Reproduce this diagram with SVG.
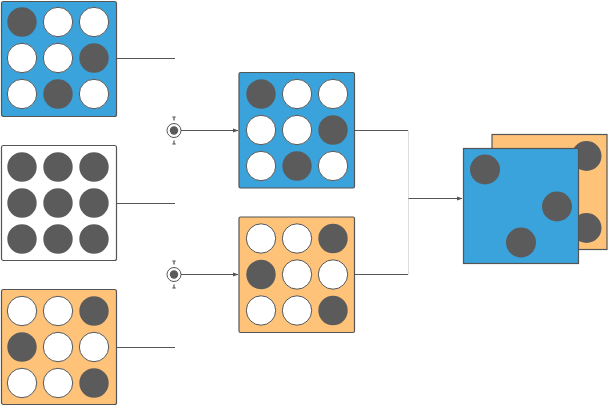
<svg xmlns="http://www.w3.org/2000/svg" width="608" height="406" viewBox="0 0 608 406">
<defs>
<style>
.box{stroke:#555;stroke-width:1.2}
.blue{fill:#3aa3dc}
.orange{fill:#fec379}
.white{fill:#fff}
.w{fill:#fff;stroke:#555;stroke-width:1}
.d{fill:#5b5b5b}
.ln{fill:none;stroke:#555;stroke-width:1}
.faint{fill:none;stroke:#ddd;stroke-width:1}
.ring{fill:#fff;stroke:#555;stroke-width:1}
.tick{fill:none;stroke:#555;stroke-width:1.2}
</style>
<marker id="arr" viewBox="0 0 10 10" refX="9" refY="5" markerWidth="6" markerHeight="6" orient="auto" markerUnits="userSpaceOnUse">
<path d="M0,1.5 L10,5 L0,8.5 z" fill="#555"/>
</marker>
</defs>
<rect width="608" height="406" fill="#fff"/>

<g id="connectors">
<path class="ln" d="M116.5 58.5 H175"/>
<path class="ln" d="M116.5 203.5 H175"/>
<path class="ln" d="M116.5 347.5 H175"/>
<path class="ln" d="M181 130.5 H238" marker-end="url(#arr)"/>
<path class="ln" d="M181 274.5 H238" marker-end="url(#arr)"/>
<path class="ln" d="M355 130.5 H408"/>
<path class="ln" d="M355 274.5 H408"/>
<path class="faint" d="M408.5 130.5 V274.5"/>
<path class="ln" d="M408.5 198.5 H462" marker-end="url(#arr)"/>
</g>

<g id="left-blue">
<rect class="box blue" x="1.5" y="1.5" width="115" height="115" rx="2"/>
<circle class="d" cx="22" cy="22" r="14.7"/><circle class="w" cx="58" cy="22" r="14.7"/><circle class="w" cx="94" cy="22" r="14.7"/>
<circle class="w" cx="22" cy="58" r="14.7"/><circle class="w" cx="58" cy="58" r="14.7"/><circle class="d" cx="94" cy="58" r="14.7"/>
<circle class="w" cx="22" cy="94" r="14.7"/><circle class="d" cx="58" cy="94" r="14.7"/><circle class="w" cx="94" cy="94" r="14.7"/>
</g>

<g id="left-white">
<rect class="box white" x="1.5" y="145.5" width="115" height="115" rx="2"/>
<circle class="d" cx="22" cy="167" r="14.7"/><circle class="d" cx="58" cy="167" r="14.7"/><circle class="d" cx="94" cy="167" r="14.7"/>
<circle class="d" cx="22" cy="203" r="14.7"/><circle class="d" cx="58" cy="203" r="14.7"/><circle class="d" cx="94" cy="203" r="14.7"/>
<circle class="d" cx="22" cy="239" r="14.7"/><circle class="d" cx="58" cy="239" r="14.7"/><circle class="d" cx="94" cy="239" r="14.7"/>
</g>

<g id="left-orange">
<rect class="box orange" x="1.5" y="289.5" width="115" height="115" rx="2"/>
<circle class="w" cx="22" cy="311" r="14.7"/><circle class="w" cx="58" cy="311" r="14.7"/><circle class="d" cx="94" cy="311" r="14.7"/>
<circle class="d" cx="22" cy="347" r="14.7"/><circle class="w" cx="58" cy="347" r="14.7"/><circle class="w" cx="94" cy="347" r="14.7"/>
<circle class="w" cx="22" cy="383" r="14.7"/><circle class="w" cx="58" cy="383" r="14.7"/><circle class="d" cx="94" cy="383" r="14.7"/>
</g>

<g id="op-top">
<circle class="ring" cx="174" cy="130.5" r="7"/>
<circle cx="174" cy="130.5" r="4.2" fill="#5b5b5b"/>
<path class="tick" d="M172.3 117 H175.7 M174 117 V120.5"/>
<path class="tick" d="M172.3 144 H175.7 M174 144 V140.5"/>
</g>

<g id="op-bottom">
<circle class="ring" cx="174" cy="274.5" r="7"/>
<circle cx="174" cy="274.5" r="4.2" fill="#5b5b5b"/>
<path class="tick" d="M172.3 261 H175.7 M174 261 V264.5"/>
<path class="tick" d="M172.3 288 H175.7 M174 288 V284.5"/>
</g>

<g id="mid-blue">
<rect class="box blue" x="239" y="72.5" width="115.5" height="115.5" rx="1.5"/>
<circle class="d" cx="261" cy="94" r="14.7"/><circle class="w" cx="297" cy="94" r="14.7"/><circle class="w" cx="333" cy="94" r="14.7"/>
<circle class="w" cx="261" cy="130" r="14.7"/><circle class="w" cx="297" cy="130" r="14.7"/><circle class="d" cx="333" cy="130" r="14.7"/>
<circle class="w" cx="261" cy="166" r="14.7"/><circle class="d" cx="297" cy="166" r="14.7"/><circle class="w" cx="333" cy="166" r="14.7"/>
</g>

<g id="mid-orange">
<rect class="box orange" x="239" y="217" width="115.5" height="115.5" rx="1.5"/>
<circle class="w" cx="261" cy="238.5" r="14.7"/><circle class="w" cx="297" cy="238.5" r="14.7"/><circle class="d" cx="333" cy="238.5" r="14.7"/>
<circle class="d" cx="261" cy="274.5" r="14.7"/><circle class="w" cx="297" cy="274.5" r="14.7"/><circle class="w" cx="333" cy="274.5" r="14.7"/>
<circle class="w" cx="261" cy="310.5" r="14.7"/><circle class="w" cx="297" cy="310.5" r="14.7"/><circle class="d" cx="333" cy="310.5" r="14.7"/>
</g>

<g id="result">
<rect class="box orange" x="492" y="134.5" width="115" height="115"/>
<circle class="d" cx="586.5" cy="156" r="15"/>
<circle class="d" cx="586.5" cy="228" r="15"/>
<rect class="box blue" x="463.5" y="148.5" width="115" height="115"/>
<circle class="d" cx="485" cy="169.5" r="15"/>
<circle class="d" cx="557" cy="206.5" r="15"/>
<circle class="d" cx="521" cy="242.5" r="15"/>
</g>
</svg>
